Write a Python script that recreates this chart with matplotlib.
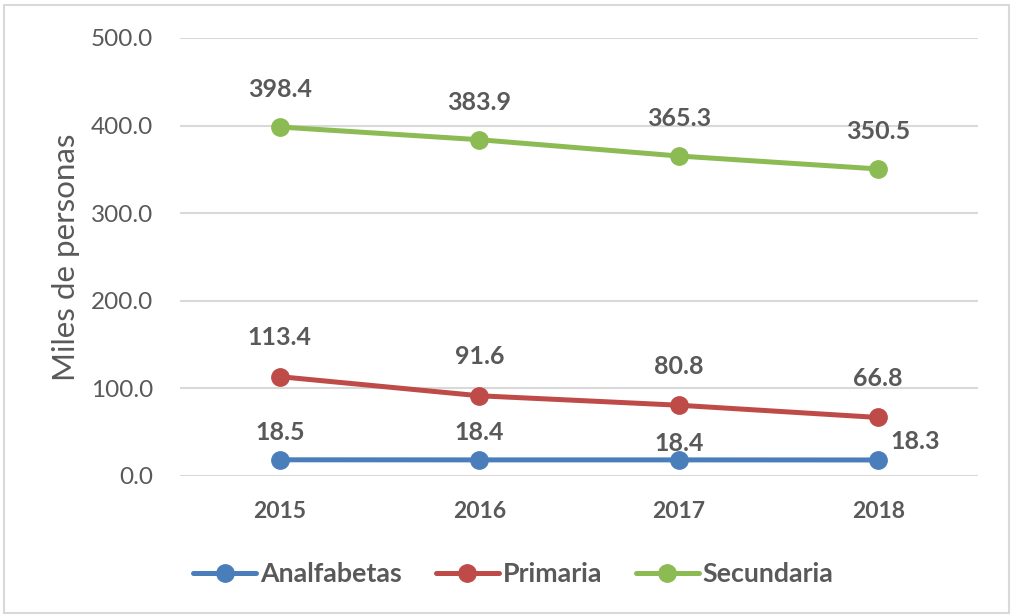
import matplotlib.pyplot as plt
from matplotlib.patches import Rectangle

plt.rcParams['font.family'] = ['Lato', 'DejaVu Sans']

# datos
years = ['2015', '2016', '2017', '2018']
analfabetas = [18.5, 18.4, 18.4, 18.3]
primaria = [113.4, 91.6, 80.8, 66.8]
secundaria = [398.4, 383.9, 365.3, 350.5]
series_names = ['Analfabetas', 'Primaria', 'Secundaria']

colores = ['#4A7EBB', '#BE4B48', '#8CBB54']
gris = '#595959'

fig = plt.figure(figsize=(10.15, 6.15), dpi=100)
ax = fig.add_axes([180 / 1015, 1 - 476 / 615, 798 / 1015, 438 / 615])

x = list(range(len(years)))
for vals, name, c in zip([analfabetas, primaria, secundaria], series_names, colores):
    ax.plot(x, vals, color=c, lw=3.6, marker='o', ms=12.5, label=name,
            solid_capstyle='round', zorder=3)

# etiquetas de datos (offset en puntos)
def etiqueta(xi, v, dx, dy, ha='center'):
    ax.annotate(f'{v:.1f}', (xi, v), xytext=(dx, dy), textcoords='offset points',
                ha=ha, va='center', fontsize=18, fontweight='bold', color=gris, zorder=4)

for i, v in enumerate(secundaria):
    etiqueta(i, v, 0, 27)
for i, v in enumerate(primaria):
    etiqueta(i, v, 0, 28)
blue_off = [(0, 19.5, 'center'), (0, 19.5, 'center'), (0, 11.5, 'center'), (9, 13, 'left')]
for i, v in enumerate(analfabetas):
    dx, dy, ha = blue_off[i]
    etiqueta(i, v, dx, dy, ha)

ax.set_xlim(-0.5, 3.5)
ax.set_ylim(0, 500)
ax.set_yticks([0, 100, 200, 300, 400, 500])
ax.set_yticklabels([f'{t:.1f}' for t in [0, 100, 200, 300, 400, 500]])
ax.set_xticks(x)
ax.set_xticklabels(years, fontweight='bold')
ax.tick_params(axis='both', length=0, labelcolor=gris)
ax.tick_params(axis='x', pad=18, labelsize=16.5)
ax.tick_params(axis='y', pad=19.5, labelsize=17.5)
ax.grid(axis='y', color='#D9D9D9', lw=1.5, zorder=0)
ax.set_axisbelow(True)
for s in ax.spines.values():
    s.set_visible(False)

ax.set_ylabel('Miles de personas', fontsize=22.5, color=gris)
ax.yaxis.set_label_coords(-100 / 798, 0.5)

fig.legend(loc='center', bbox_to_anchor=(0.506, 1 - 574 / 615), ncol=3, frameon=False,
           prop={'size': 19.3, 'weight': 'bold'}, labelcolor=gris,
           handlelength=2.35, handletextpad=0.15, columnspacing=1.25)

# marco de la figura
fig.patches.append(Rectangle((4 / 1015, 2 / 615), 1005 / 1015, 608 / 615,
                             transform=fig.transFigure, fill=False,
                             edgecolor='#D9D9D9', lw=1.5))

fig.savefig('out.png', dpi=100)
